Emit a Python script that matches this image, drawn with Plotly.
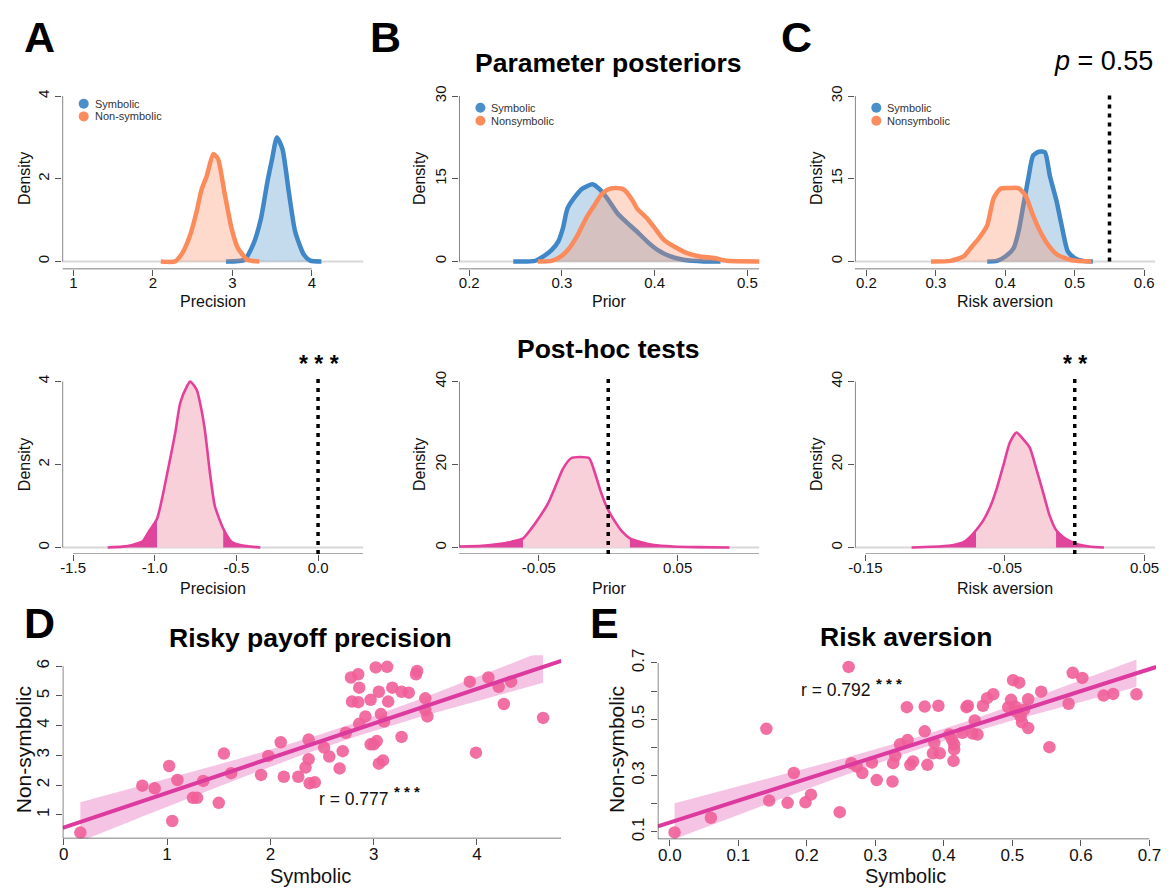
import numpy as np
import plotly.graph_objects as go

W, H = 1173, 888
FONT = "Arial, Liberation Sans, sans-serif"

# ---------------- DATA ----------------
# Row 1: parameter posteriors (density curves)
a_sym_x = [2.92, 3.15, 3.26, 3.36, 3.44, 3.50, 3.56, 3.63, 3.71, 3.79, 3.90, 3.98, 4.12]
a_sym_y = [0.0, 0.04, 0.40, 1.04, 1.92, 2.48, 3.00, 2.72, 1.68, 0.72, 0.16, 0.02, 0.0]
a_non_x = [2.10, 2.28, 2.37, 2.47, 2.55, 2.61, 2.68, 2.76, 2.82, 2.90, 2.99, 3.07, 3.19, 3.34]
a_non_y = [0.0, 0.0, 0.20, 0.64, 1.20, 1.72, 2.08, 2.60, 2.48, 1.68, 0.80, 0.32, 0.04, 0.0]

b_sym_x = [0.2475, 0.271, 0.280, 0.289, 0.296, 0.301, 0.306, 0.314, 0.322, 0.333, 0.340,
           0.349, 0.360, 0.371, 0.381, 0.392, 0.403, 0.417, 0.431, 0.453, 0.471]
b_sym_y = [0, 0.1, 0.9, 2.1, 3.6, 6.0, 9.6, 11.7, 13.2, 14.0, 13.2,
           11.4, 8.7, 6.9, 5.4, 3.6, 2.1, 0.9, 0.3, 0, 0]
b_non_x = [0.274, 0.289, 0.299, 0.308, 0.317, 0.326, 0.335, 0.342, 0.349, 0.358, 0.367,
           0.376, 0.381, 0.392, 0.399, 0.410, 0.421, 0.435, 0.449, 0.464, 0.478, 0.514]
b_non_y = [0, 0.1, 0.9, 2.4, 4.8, 7.8, 10.2, 12.0, 13.0, 13.3, 13.0,
           11.1, 9.6, 7.8, 6.3, 3.9, 2.7, 1.5, 0.9, 0.6, 0.1, 0]

c_sym_x = [0.374, 0.388, 0.400, 0.412, 0.419, 0.426, 0.433, 0.440, 0.448, 0.457, 0.464,
           0.474, 0.481, 0.490, 0.500, 0.512, 0.526]
c_sym_y = [0, 0.1, 0.9, 2.4, 5.4, 10.2, 15.0, 19.2, 19.9, 19.8, 15.6,
           10.8, 6.6, 1.8, 0.6, 0.1, 0]
c_non_x = [0.293, 0.321, 0.340, 0.352, 0.362, 0.374, 0.383, 0.393, 0.407, 0.419, 0.429,
           0.438, 0.448, 0.460, 0.474, 0.488, 0.502, 0.524]
c_non_y = [0, 0.1, 0.9, 2.7, 4.2, 6.6, 11.4, 13.2, 13.3, 13.3, 12.0,
           9.0, 6.0, 3.3, 1.3, 0.5, 0.1, 0]
c_p_line = 0.55

# Row 2: post-hoc difference densities with 95% interval bounds
am_x = [-1.288, -1.197, -1.137, -1.076, -1.036, -0.985, -0.955, -0.914, -0.874, -0.844, -0.803,
        -0.783, -0.743, -0.713, -0.692, -0.662, -0.632, -0.581, -0.531, -0.470, -0.410, -0.353]
am_y = [0, 0.02, 0.06, 0.14, 0.38, 0.70, 1.18, 1.97, 2.77, 3.48, 3.88,
        4.0, 3.8, 3.3, 2.8, 1.8, 1.0, 0.46, 0.14, 0.05, 0.02, 0]
am_ci = [-0.985, -0.581]

bm_x = [-0.107, -0.0909, -0.079, -0.0695, -0.0612, -0.0552, -0.0493, -0.0433, -0.0386, -0.0327,
        -0.0267, -0.0208, -0.0137, -0.0101, -0.0053, -0.0006, 0.0042, 0.0101, 0.0156, 0.0232,
        0.0327, 0.0469, 0.0635, 0.0873]
bm_y = [0.24, 0.4, 0.8, 1.4, 2.2, 4.6, 7.4, 10.6, 14.2, 18.9,
        21.5, 21.8, 21.5, 18.5, 13.4, 9.4, 6.6, 3.8, 2.2, 1.3,
        0.6, 0.24, 0.08, 0]
bm_ci = [-0.0612, 0.0156]

cm_x = [-0.1169, -0.1032, -0.089, -0.0796, -0.0748, -0.0706, -0.0654, -0.0606, -0.0559, -0.0512,
        -0.0465, -0.0417, -0.037, -0.0323, -0.0275, -0.0228, -0.0181, -0.0134, -0.0086, -0.0027,
        0.0032, 0.0103, 0.0209]
cm_y = [0, 0.16, 0.48, 1.27, 2.6, 4.2, 6.6, 9.8, 14.2, 19.7,
        25.3, 27.7, 26.1, 24.1, 18.9, 13.4, 7.8, 4.2, 2.6, 1.4,
        0.64, 0.24, 0]
cm_ci = [-0.0706, -0.0134]

# Row 3: scatter data
d_sym = [0.16, 0.76, 0.88, 1.02, 1.05, 1.10, 1.25, 1.29, 1.35, 1.50, 1.55, 1.62, 1.91, 1.98,
         2.10, 2.13, 2.27, 2.34, 2.37, 2.37, 2.38, 2.43, 2.52, 2.57, 2.67, 2.70, 2.73, 2.78,
         2.79, 2.85, 2.85, 2.86, 2.86, 2.92, 2.97, 2.97, 3.00, 3.02, 3.03, 3.05, 3.05, 3.07,
         3.09, 3.10, 3.13, 3.14, 3.18, 3.27, 3.27, 3.34, 3.41, 3.42, 3.50, 3.50, 3.52, 3.93,
         3.99, 4.11, 4.21, 4.26, 4.33, 4.64]
d_non = [0.40, 1.98, 1.89, 2.64, 0.79, 2.17, 1.57, 1.57, 2.14, 1.40, 3.06, 2.40, 2.34, 2.98,
         3.44, 2.28, 2.28, 2.59, 3.53, 2.87, 2.06, 2.09, 3.26, 2.96, 2.56, 3.14, 3.76, 5.62,
         4.81, 5.73, 4.79, 5.28, 4.06, 4.31, 4.87, 3.37, 3.37, 5.96, 3.48, 5.14, 2.72, 4.39,
         2.83, 4.14, 5.98, 4.81, 5.28, 5.14, 3.62, 5.11, 5.73, 5.84, 4.92, 4.53, 4.31, 5.48,
         3.09, 5.62, 5.31, 4.73, 5.48, 4.26]
e_sym = [0.007, 0.060, 0.141, 0.145, 0.172, 0.181, 0.198, 0.206, 0.248, 0.261, 0.265, 0.273,
         0.281, 0.295, 0.302, 0.325, 0.326, 0.329, 0.336, 0.346, 0.347, 0.351, 0.355, 0.372,
         0.372, 0.376, 0.384, 0.386, 0.392, 0.394, 0.408, 0.412, 0.415, 0.415, 0.414, 0.427,
         0.433, 0.435, 0.442, 0.445, 0.449, 0.457, 0.463, 0.472, 0.494, 0.498, 0.501, 0.504,
         0.505, 0.510, 0.512, 0.514, 0.517, 0.523, 0.523, 0.542, 0.554, 0.582, 0.588, 0.602,
         0.633, 0.647, 0.681]
e_non = [0.098, 0.150, 0.466, 0.211, 0.203, 0.309, 0.205, 0.232, 0.170, 0.686, 0.344, 0.332,
         0.309, 0.346, 0.284, 0.279, 0.344, 0.370, 0.411, 0.543, 0.426, 0.338, 0.350, 0.457,
         0.545, 0.338, 0.379, 0.416, 0.548, 0.379, 0.446, 0.428, 0.411, 0.393, 0.352, 0.452,
         0.543, 0.548, 0.449, 0.496, 0.446, 0.548, 0.575, 0.589, 0.543, 0.569, 0.639, 0.545,
         0.528, 0.630, 0.510, 0.489, 0.534, 0.469, 0.571, 0.598, 0.401, 0.555, 0.665, 0.647,
         0.584, 0.590, 0.589]
d_r_label = "r = 0.777"
e_r_label = "r = 0.792"

# tick labels
ticks = {
    1: (["1", "2", "3", "4"], ["0", "2", "4"]),
    2: (["0.2", "0.3", "0.4", "0.5"], ["0", "15", "30"]),
    3: (["0.2", "0.3", "0.4", "0.5", "0.6"], ["0", "15", "30"]),
    4: (["-1.5", "-1.0", "-0.5", "0.0"], ["0", "2", "4"]),
    5: (["-0.05", "0.05"], ["0", "20", "40"]),
    6: (["-0.15", "-0.05", "0.05"], ["0", "20", "40"]),
    7: (["0", "1", "2", "3", "4"], ["1", "2", "3", "4", "5", "6"]),
    8: (["0.0", "0.1", "0.2", "0.3", "0.4", "0.5", "0.6", "0.7"],
        ["0.1", "", "0.3", "", "0.5", "", "0.7"]),
}

# ---------------- STYLE / LAYOUT ----------------
BLUE_LINE = "#3f87c6"
BLUE_FILL = "rgba(70,140,200,0.32)"
ORANGE_LINE = "#fb8b5b"
ORANGE_FILL = "rgba(250,140,95,0.32)"
PINK_LINE = "#e4409b"
PINK_LIGHT = "#f8d0da"
PINK_DARK = "#e0459c"
PT_COLOR = "rgba(240,95,152,0.9)"
REG_COLOR = "#dc3a9e"
BAND_COLOR = "rgba(232,125,195,0.45)"
AX_COLOR = "#555555"

# pixel domains and ranges per panel
panels = {
    1: dict(xd=(56, 360), yd=(80, 265), xr=(0.863, 4.647), yr=(-0.1916, 4.24),
            xl=(None, 4), yl=(0, 4)),
    2: dict(xd=(456.7, 760), yd=(80, 265), xr=(0.189, 0.5128), yr=(-1.437, 31.8),
            xl=(None, None), yl=(0, 30)),
    3: dict(xd=(856.7, 1160), yd=(80, 265), xr=(0.1835, 0.6157), yr=(-1.437, 31.8),
            xl=(None, 0.6), yl=(0, 30)),
    4: dict(xd=(56, 360), yd=(368, 552.7), xr=(-1.565, 0.277), yr=(-0.16, 4.245),
            xl=(-1.5, None), yl=(0, 4)),
    5: dict(xd=(456.7, 760), yd=(368, 552.7), xr=(-0.1074, 0.1087), yr=(-1.598, 42.46),
            xl=(None, None), yl=(0, 40)),
    6: dict(xd=(856.7, 1160), yd=(368, 552.7), xr=(-0.1575, 0.0576), yr=(-1.598, 42.46),
            xl=(-0.15, 0.05), yl=(0, 40)),
    7: dict(xd=(56.3, 560), yd=(655, 840), xr=(-0.0105, 4.816), yr=(0.2, 6.367),
            xl=(None, None), yl=(None, 6)),
    8: dict(xd=(657.5, 1161), yd=(655, 840.7), xr=(-0.0175, 0.7097), yr=(0.074, 0.727),
            xl=(None, 0.7), yl=(None, 0.7)),
}


def sfx(i):
    return "" if i == 1 else str(i)


fig = go.Figure()
shapes = []
annotations = []


def ann(x, y, text, size, bold=False, angle=0, xanchor="center", color="#111111"):
    annotations.append(dict(
        x=x / W, y=1 - y / H, xref="paper", yref="paper", text=f"<b>{text}</b>" if bold else text,
        showarrow=False, textangle=angle, xanchor=xanchor, yanchor="middle",
        font=dict(family=FONT, size=size, color=color)))


def density(i, xs, ys, line, fill):
    s = sfx(i)
    fig.add_trace(go.Scatter(
        x=xs, y=ys, mode="lines", fill="tozeroy", fillcolor=fill,
        line=dict(color=line, width=4.5, shape="spline", smoothing=0.6),
        xaxis="x" + s, yaxis="y" + s, showlegend=False, hoverinfo="skip"))


def posthoc(i, xs, ys, ci):
    s = sfx(i)
    xs = np.array(xs)
    ys = np.array(ys)
    lo, hi = ci
    parts = [(xs <= lo, PINK_DARK), ((xs >= lo) & (xs <= hi), PINK_LIGHT), (xs >= hi, PINK_DARK)]
    for m, col in parts:
        fig.add_trace(go.Scatter(
            x=xs[m], y=ys[m], mode="lines", fill="tozeroy", fillcolor=col,
            line=dict(width=0, shape="spline", smoothing=0.6, color=col),
            xaxis="x" + s, yaxis="y" + s, showlegend=False, hoverinfo="skip"))
    fig.add_trace(go.Scatter(
        x=xs, y=ys, mode="lines",
        line=dict(color=PINK_LINE, width=2.6, shape="spline", smoothing=0.6),
        xaxis="x" + s, yaxis="y" + s, showlegend=False, hoverinfo="skip"))


def scatter_reg(i, x, y):
    s = sfx(i)
    x = np.array(x, dtype=float)
    y = np.array(y, dtype=float)
    n = len(x)
    b1, b0 = np.polyfit(x, y, 1)
    res = y - (b0 + b1 * x)
    sd = np.sqrt(np.sum(res ** 2) / (n - 2))
    sxx = np.sum((x - x.mean()) ** 2)
    g = np.linspace(x.min(), x.max(), 100)
    se = sd * np.sqrt(1.0 / n + (g - x.mean()) ** 2 / sxx)
    fit = b0 + b1 * g
    t = 2.0
    fig.add_trace(go.Scatter(
        x=np.concatenate([g, g[::-1]]), y=np.concatenate([fit + t * se, (fit - t * se)[::-1]]),
        mode="lines", fill="toself", fillcolor=BAND_COLOR, line=dict(width=0),
        xaxis="x" + s, yaxis="y" + s, showlegend=False, hoverinfo="skip"))
    fig.add_trace(go.Scatter(
        x=x, y=y, mode="markers", marker=dict(size=12.5, color=PT_COLOR, line=dict(width=0)),
        xaxis="x" + s, yaxis="y" + s, showlegend=False, hoverinfo="skip"))
    xx = np.array(panels[i]["xr"])
    fig.add_trace(go.Scatter(
        x=xx, y=b0 + b1 * xx, mode="lines", line=dict(color=REG_COLOR, width=4),
        xaxis="x" + s, yaxis="y" + s, showlegend=False, hoverinfo="skip"))


# ---- traces ----
density(1, a_sym_x, a_sym_y, BLUE_LINE, BLUE_FILL)
density(1, a_non_x, a_non_y, ORANGE_LINE, ORANGE_FILL)
density(2, b_sym_x, b_sym_y, BLUE_LINE, BLUE_FILL)
density(2, b_non_x, b_non_y, ORANGE_LINE, ORANGE_FILL)
density(3, c_sym_x, c_sym_y, BLUE_LINE, BLUE_FILL)
density(3, c_non_x, c_non_y, ORANGE_LINE, ORANGE_FILL)
posthoc(4, am_x, am_y, am_ci)
posthoc(5, bm_x, bm_y, bm_ci)
posthoc(6, cm_x, cm_y, cm_ci)
scatter_reg(7, d_sym, d_non)
scatter_reg(8, e_sym, e_non)

# ---- axes ----
layout_axes = {}
xtick_vals = {
    1: [1, 2, 3, 4], 2: [0.2, 0.3, 0.4, 0.5], 3: [0.2, 0.3, 0.4, 0.5, 0.6],
    4: [-1.5, -1.0, -0.5, 0.0], 5: [-0.05, 0.05], 6: [-0.15, -0.05, 0.05],
    7: [0, 1, 2, 3, 4], 8: [0, 0.1, 0.2, 0.3, 0.4, 0.5, 0.6, 0.7],
}
ytick_vals = {
    1: [0, 2, 4], 2: [0, 15, 30], 3: [0, 15, 30], 4: [0, 2, 4], 5: [0, 20, 40], 6: [0, 20, 40],
    7: [1, 2, 3, 4, 5, 6], 8: [0.1, 0.2, 0.3, 0.4, 0.5, 0.6, 0.7],
}
for i, p in panels.items():
    s = sfx(i)
    fs = 17 if i >= 7 else 15
    common = dict(showgrid=False, zeroline=False, showline=False, ticks="outside",
                  ticklen=6, tickwidth=1.3, tickcolor=AX_COLOR, fixedrange=True,
                  tickfont=dict(family=FONT, size=fs, color="#111111"), tickmode="array")
    layout_axes["xaxis" + s] = dict(
        common, domain=[p["xd"][0] / W, p["xd"][1] / W], range=list(p["xr"]),
        anchor="y" + s, tickvals=xtick_vals[i], ticktext=ticks[i][0],
        ticklabelstandoff=-6)
    layout_axes["yaxis" + s] = dict(
        common, domain=[1 - p["yd"][1] / H, 1 - p["yd"][0] / H], range=list(p["yr"]),
        anchor="x" + s, tickvals=ytick_vals[i], ticktext=ticks[i][1], tickangle=-90)
    xa = p["xl"][0] if p["xl"][0] is not None else p["xr"][0]
    xb = p["xl"][1] if p["xl"][1] is not None else p["xr"][1]
    ya = p["yl"][0] if p["yl"][0] is not None else p["yr"][0]
    yb = p["yl"][1] if p["yl"][1] is not None else p["yr"][1]
    # axis lines (R style)
    shapes.append(dict(type="line", xref="x" + s, yref="y" + s, x0=p["xr"][0], x1=p["xr"][0],
                       y0=ya, y1=yb, line=dict(color=AX_COLOR, width=1.4)))
    shapes.append(dict(type="line", xref="x" + s, yref="y" + s, x0=xa, x1=xb,
                       y0=p["yr"][0], y1=p["yr"][0], line=dict(color=AX_COLOR, width=1.4)))
    if i <= 6:
        shapes.append(dict(type="line", xref=f"x{s} domain", yref="y" + s, x0=0, x1=1, y0=0, y1=0,
                           layer="below", line=dict(color="#d8d8d8", width=2)))

# dotted reference lines
DOT = dict(color="black", width=3.5, dash="4px,5px")
shapes.append(dict(type="line", xref="x3", yref="y3", x0=c_p_line, x1=c_p_line, y0=0, y1=30.3, line=DOT))
shapes.append(dict(type="line", xref="x4", yref="y4", x0=0, x1=0, y0=-0.16, y1=4.07, line=DOT))
shapes.append(dict(type="line", xref="x5", yref="y5", x0=0, x1=0, y0=-1.6, y1=40.7, line=DOT))
shapes.append(dict(type="line", xref="x6", yref="y6", x0=0, x1=0, y0=-1.6, y1=40.7, line=DOT))

# legends (manual, one per top panel)
legend_pos = [(77.5, 97.7, 110.5, ["Symbolic", "Non-symbolic"]),
              (478.3, 101.7, 115, ["Symbolic", "Nonsymbolic"]),
              (878.3, 101.7, 115, ["Symbolic", "Nonsymbolic"])]
for lx, y1, y2, labels in legend_pos:
    for yy, col, lab in [(y1, "#4a8fca", labels[0]), (y2, "#fa8c5e", labels[1])]:
        shapes.append(dict(type="circle", xref="paper", yref="paper", xsizemode="pixel",
                           ysizemode="pixel", xanchor=lx / W, yanchor=1 - yy / H,
                           x0=-5, x1=5, y0=-5, y1=5, fillcolor=col, line=dict(width=0)))
        ann(lx + 9, yy, lab, 11, xanchor="left", color="#333333")

# panel letters
for lab, x, y in [("A", 33, 30), ("B", 382, 30), ("C", 798, 30), ("D", 33, 622), ("E", 604, 622)]:
    ann(x, y, lab, 43, bold=True, color="black")

# titles
ann(608, 57, "Parameter posteriors", 26.5, bold=True, color="black")
ann(608, 346, "Post-hoc tests", 26.5, bold=True, color="black")
ann(307, 637, "Risky payoff precision", 26.5, bold=True, color="black")
ann(908, 636, "Risk aversion", 26.5, bold=True, color="black")
ann(1108, 55, "<i>p</i> = 0.55", 27, color="black")
ann(315, 361, "* * *", 23, bold=True, color="black")
ann(1079, 361, "* *", 23, bold=True, color="black")

# axis titles
for x in (17, 417, 818):
    ann(x, 173, "Density", 16, angle=-90)
    ann(x, 462, "Density", 16, angle=-90)
for x, lab in [(208, "Precision"), (608, "Prior"), (1008, "Risk aversion")]:
    ann(x, 298, lab, 16)
    ann(x, 587, lab, 16)
ann(17, 750, "Non-symbolic", 21, angle=-90)
ann(616, 750, "Non-symbolic", 21, angle=-90)
ann(307, 878, "Symbolic", 20)
ann(908, 878, "Symbolic", 20)

# correlation labels
ann(313, 800, d_r_label, 17.5, xanchor="left")
ann(389, 793, "* * *", 15, xanchor="left", bold=True)
ann(800, 690, e_r_label, 17.5, xanchor="left")
ann(876, 683, "* * *", 15, xanchor="left", bold=True)

fig.update_layout(
    width=W, height=H, autosize=False, margin=dict(l=0, r=0, t=0, b=0),
    paper_bgcolor="white", plot_bgcolor="white", showlegend=False,
    shapes=shapes, annotations=annotations, font=dict(family=FONT),
    **layout_axes)

fig.write_html("out.html")
